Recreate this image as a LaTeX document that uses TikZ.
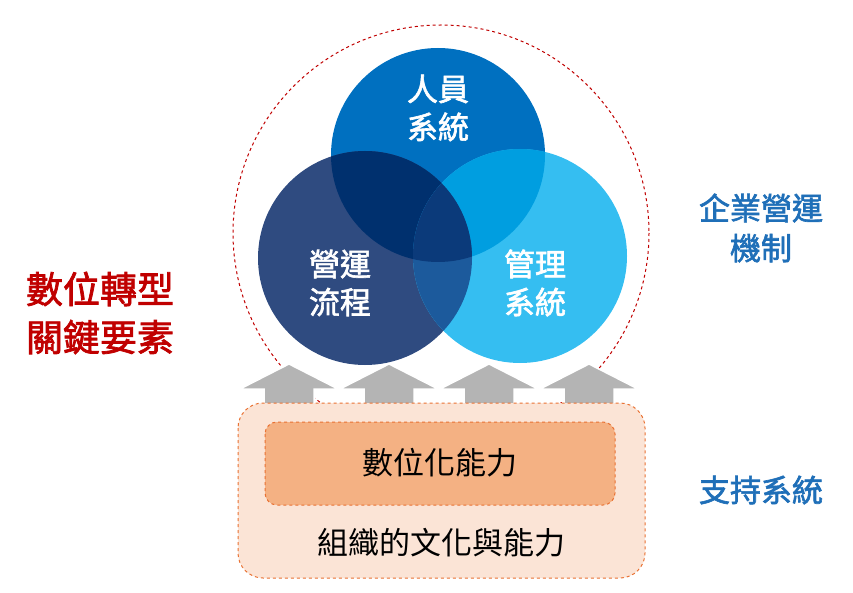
\documentclass[tikz,border=0pt]{standalone}
\usepackage{fontspec}
\setmainfont{Noto Sans CJK TC}
\newfontfamily\cjkb{Noto Sans CJK TC}[FakeBold=2]
\definecolor{cT}{HTML}{0070C0}
\definecolor{cL}{HTML}{2F4B80}
\definecolor{cR}{HTML}{35BEF1}
\definecolor{cTL}{HTML}{00306E}
\definecolor{cTR}{HTML}{009EE0}
\definecolor{cLR}{HTML}{1C5A9C}
\definecolor{cTLR}{HTML}{0B3A7A}
\definecolor{redt}{HTML}{C00000}
\definecolor{bluet}{HTML}{1F6FB8}
\definecolor{pk}{HTML}{FBE4D6}
\definecolor{or}{HTML}{F4B183}
\definecolor{ob}{HTML}{E97132}
\definecolor{ar}{HTML}{B4B4B4}
\tikzset{ctext/.style={text=white,font=\cjkb\fontsize{31}{38}\selectfont,align=center},
sidetext/.style={font=\cjkb\fontsize{31}{40}\selectfont,align=center},
boxtext/.style={font=\fontsize{31}{36}\selectfont},
uparrow/.style={fill=ar,draw=white,line width=1.5pt}}
\begin{document}
\begin{tikzpicture}[x=1pt,y=-1pt]
\useasboundingbox (0,0) rectangle (853,593);
\coordinate (T) at (438,155);
\coordinate (L) at (365,258);
\coordinate (R) at (520,256);
\def\rr{107}
\draw[redt,dashed,line width=1pt] (441,233) circle (208);
\fill[cT] (T) circle (\rr);
\fill[cL] (L) circle (\rr);
\fill[cR] (R) circle (\rr);
\begin{scope}\clip (T) circle (\rr); \fill[cTL] (L) circle (\rr); \fill[cTR] (R) circle (\rr);\end{scope}
\begin{scope}\clip (L) circle (\rr); \fill[cLR] (R) circle (\rr);\end{scope}
\begin{scope}\clip (T) circle (\rr); \clip (L) circle (\rr); \fill[cTLR] (R) circle (\rr);\end{scope}
\node[ctext] (tt) at (438,108) {人員\\系統};
\node[ctext] (lt) at (340,283) {營運\\流程};
\node[ctext] (rt) at (535,283) {管理\\系統};
\foreach \c in {289,389,489,589}{
 \draw[uparrow] (\c-49,389) -- (\c,364) -- (\c+49,389) -- (\c+25,389) -- (\c+25,404) -- (\c-25,404) -- (\c-25,389) -- cycle;}
\draw[ob,dashed,fill=pk,line width=1pt,rounded corners=25] (238,403) rectangle (645,578);
\draw[ob,dashed,fill=or,line width=1pt,rounded corners=12] (265,422) rectangle (615,505);
\node[boxtext] (dc) at (440,463) {數位化能力};
\node[boxtext] (oc) at (441,543) {組織的文化與能力};
\node[sidetext,text=redt,font=\cjkb\fontsize{37}{48}\selectfont] (key) at (100,313) {數位轉型\\關鍵要素};
\node[sidetext,text=bluet] (ent) at (761,228) {企業營運\\機制};
\node[sidetext,text=bluet] (sup) at (761,490) {支持系統};
\end{tikzpicture}
\end{document}
